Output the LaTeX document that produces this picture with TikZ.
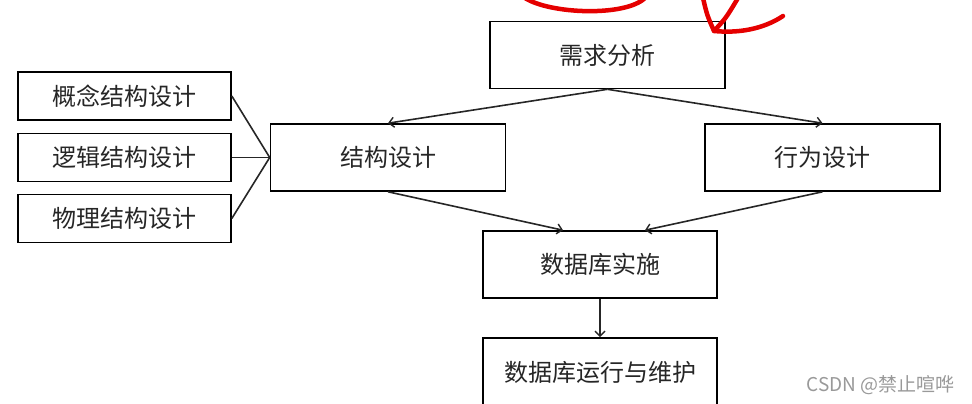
\documentclass[tikz,border=0pt]{standalone}
\usepackage{fontspec}
\setmainfont{Noto Sans CJK SC}
\usetikzlibrary{arrows.meta}
\begin{document}
\begin{tikzpicture}[
    x=1pt, y=-1pt,
    box/.style={draw, line width=1.6pt, font=\fontsize{24}{28}\selectfont, text=black!85, inner sep=0pt},
    bigbox/.style={box, minimum width=235pt, minimum height=67pt},
    smallbox/.style={box, minimum width=213pt, minimum height=48pt},
    link/.style={draw, line width=1.6pt, black!85},
    flow/.style={link, -{Straight Barb[length=5pt, width=10pt, line width=1.4pt]}},
    scribble/.style={draw, red!90!black, line width=4.5pt, line cap=round, line join=round}
]
  \useasboundingbox (0,0) rectangle (972,404);
  % --- main chain of phases -----------------------------------------------
  \node[bigbox] (need)   at (607.5, 55)  {需求分析};
  \node[bigbox] (struct) at (388, 157.5) {结构设计};
  \node[bigbox] (behav)  at (822.5, 157.5) {行为设计};
  \node[bigbox, minimum width=234pt] (impl)  at (600, 264.5) {数据库实施};
  \node[bigbox, minimum width=234pt, minimum height=68pt] (maint) at (600, 372) {数据库运行与维护};
  % --- the three parts of the structure design ----------------------------
  \node[smallbox] (concept)  at (124.5, 96)    {概念结构设计};
  \node[smallbox] (logic)    at (124.5, 157.5) {逻辑结构设计};
  \node[smallbox] (physical) at (124.5, 218.5) {物理结构设计};
  \foreach \part in {concept, logic, physical} { \draw[link] (\part.east) -- (struct.west); }
  % --- arrows between phases ----------------------------------------------
  \draw[flow] (need.south) -- (struct.north);
  \draw[flow] (need.south) -- (behav.north);
  \draw[flow] (struct.south) -- ([xshift=-37pt]impl.north);
  \draw[flow] (behav.south) -- ([xshift=45pt]impl.north);
  \draw[flow] (impl.south) -- (maint.north);
  % --- red pen marks at the top -------------------------------------------
  \draw[scribble] (525,-2) .. controls (550,14) and (625,17) .. (645,-2);
  \draw[scribble] (703,-2) .. controls (707,15) .. (714,31) .. controls (726,18) .. (738,-2);
  \draw[scribble] (714,31) .. controls (745,34) and (768,26) .. (783,16);
  % --- watermark ----------------------------------------------------------
  \node[font=\fontsize{19}{22}\selectfont, text=black!40, anchor=east] (mark) at (958, 385) {CSDN @禁止喧哗};
\end{tikzpicture}
\end{document}
